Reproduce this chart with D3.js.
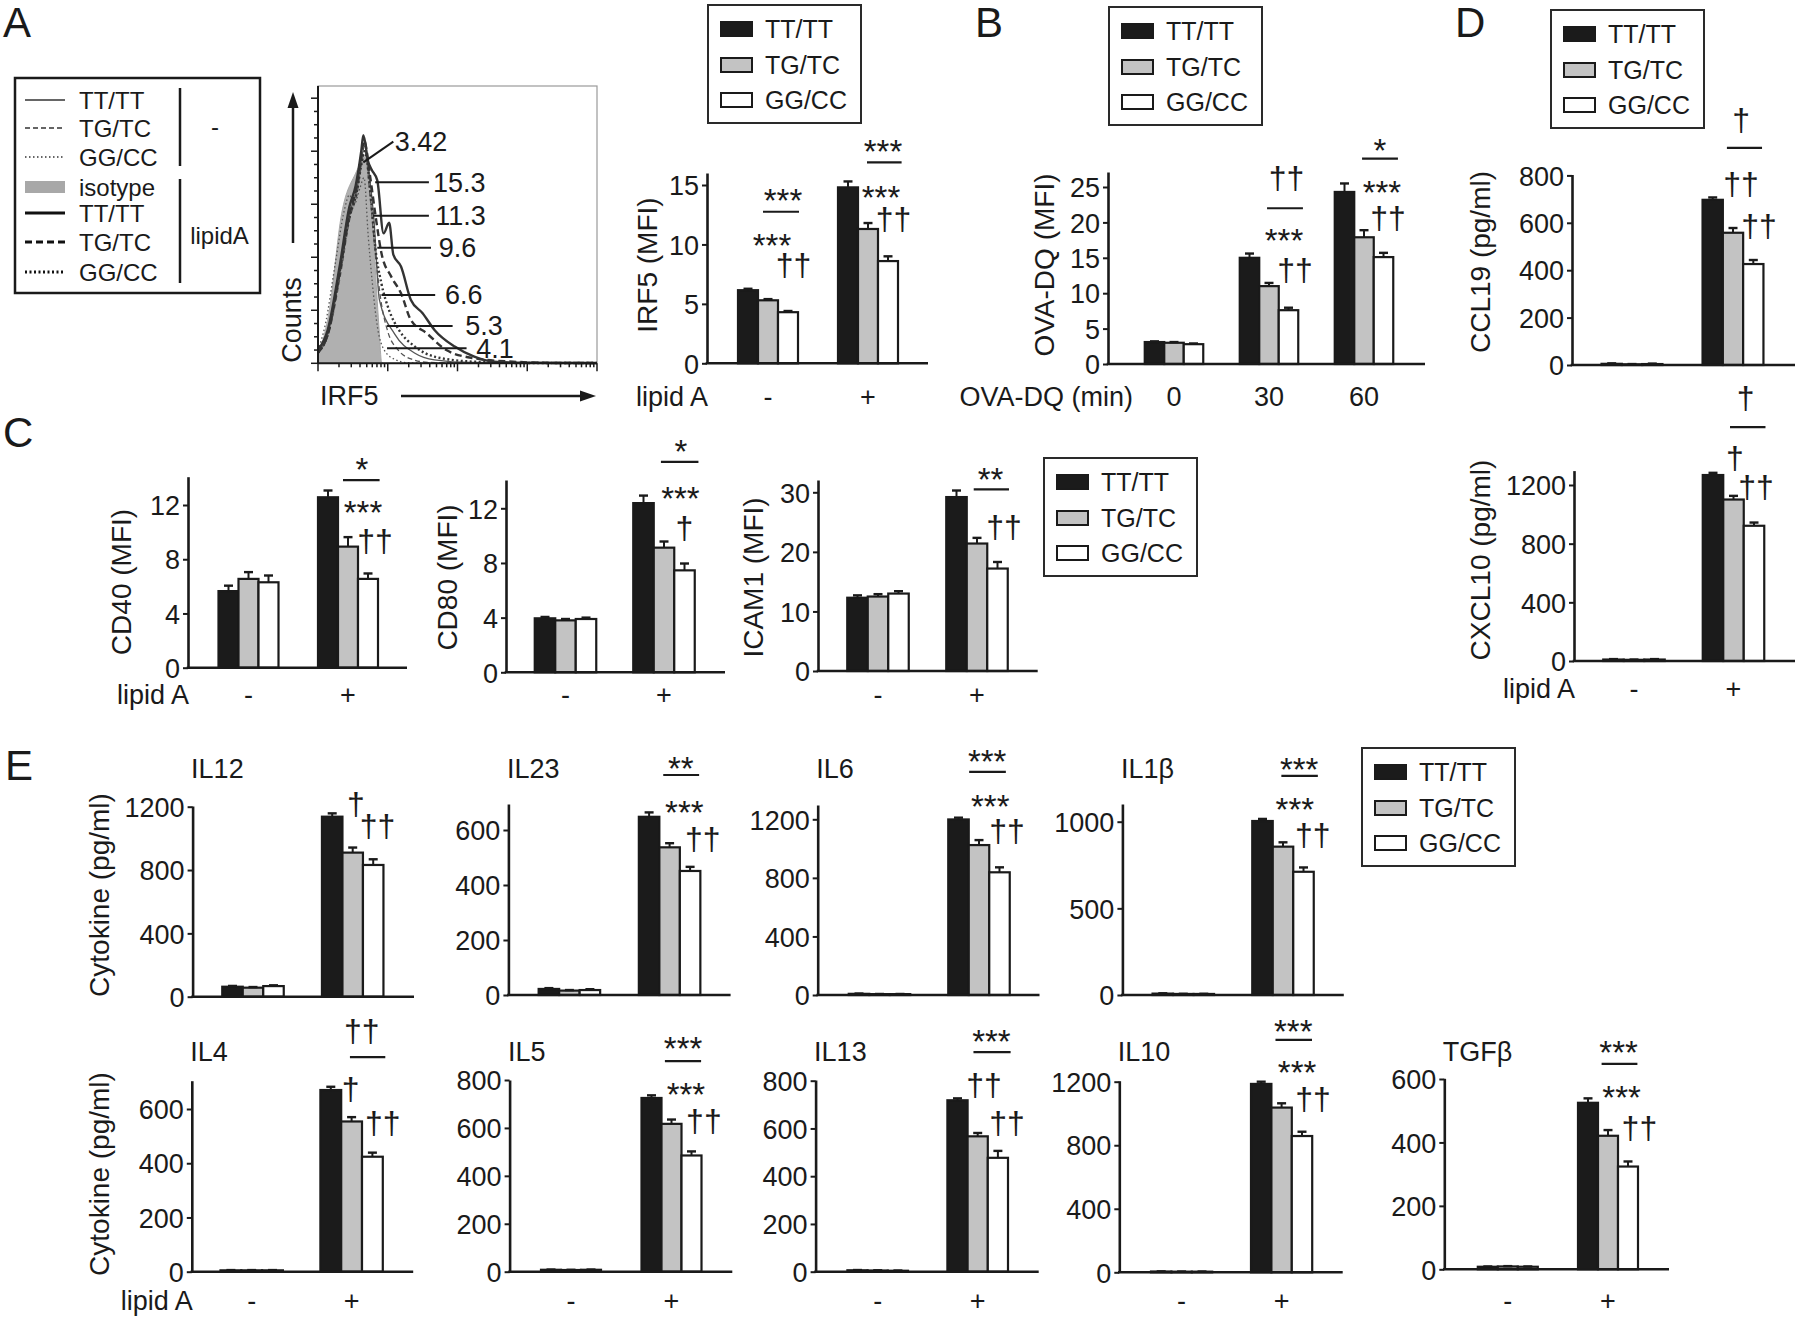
<!DOCTYPE html>
<html><head><meta charset="utf-8">
<script src="https://cdn.jsdelivr.net/npm/d3@7"></script>
<style>body{margin:0;background:#fff} text{font-family:"Liberation Sans",Arial,Helvetica,sans-serif;fill:#1a1a1a}</style>
</head><body><svg id="fig" width="1800" height="1321" xmlns="http://www.w3.org/2000/svg"></svg>
<script>
// ---------------- DATA ----------------
const series = ["TT/TT","TG/TC","GG/CC"];
const lipidGroups = ["-","+"];
const ovaGroups = ["0","30","60"];

const irf5Vals=[[6.15,5.3,4.3],[14.8,11.3,8.6]];
const irf5Err=[[0.12,0.1,0.1],[0.5,0.5,0.4]];
const ovaVals=[[3.1,3.0,2.8],[15.0,11.0,7.6],[24.3,17.9,15.1]];
const ovaErr=[[0.1,0.1,0.1],[0.6,0.45,0.35],[1.2,1.0,0.6]];
const cd40Vals=[[5.65,6.55,6.3],[12.57,8.93,6.55]];
const cd40Err=[[0.4,0.5,0.5],[0.5,0.7,0.4]];
const cd80Vals=[[3.95,3.8,3.9],[12.38,9.12,7.46]];
const cd80Err=[[0.1,0.1,0.1],[0.55,0.45,0.5]];
const icam1Vals=[[12.3,12.5,13.0],[29.2,21.4,17.2]];
const icam1Err=[[0.4,0.4,0.4],[1.1,0.95,1.1]];
const ccl19Vals=[[5,3,4],[697,558,426]];
const ccl19Err=[[2,1,2],[10,20,17]];
const cxcl10Vals=[[10,8,10],[1268,1101,922]];
const cxcl10Err=[[3,2,3],[15,25,22]];
const il12Vals=[[63,57,67],[1137,910,832]];
const il12Err=[[5,4,5],[21,32,36]];
const il23Vals=[[22,16,18],[648,537,451]];
const il23Err=[[3,2,3],[16,15,15]];
const il6Vals=[[8,6,6],[1199,1024,838]];
const il6Err=[[2,1,1],[12,34,34]];
const il1bVals=[[8,6,6],[1004,856,711]];
const il1bErr=[[2,1,1],[12,25,25]];
const il4Vals=[[5,5,5],[670,554,424]];
const il4Err=[[1,1,1],[12,16,15]];
const il5Vals=[[8,7,8],[725,617,485]];
const il5Err=[[1,1,1],[11,18,17]];
const il13Vals=[[6,5,4],[718,567,477]];
const il13Err=[[1,1,1],[8,14,29]];
const il10Vals=[[5,4,4],[1186,1037,858]];
const il10Err=[[1,1,1],[14,27,27]];
const tgfbVals=[[8,9,8],[525,421,324]];
const tgfbErr=[[1,1,1],[14,18,16]];

const irf5Ticks=[0,5,10,15], ovaTicks=[0,5,10,15,20,25], cd40Ticks=[0,4,8,12], cd80Ticks=[0,4,8,12],
      icam1Ticks=[0,10,20,30], ccl19Ticks=[0,200,400,600,800], cxcl10Ticks=[0,400,800,1200],
      il12Ticks=[0,400,800,1200], il23Ticks=[0,200,400,600], il6Ticks=[0,400,800,1200],
      il1bTicks=[0,500,1000], il4Ticks=[0,200,400,600], il5Ticks=[0,200,400,600,800],
      il13Ticks=[0,200,400,600,800], il10Ticks=[0,400,800,1200], tgfbTicks=[0,200,400,600];

// significance annotations: g = group, dx = offset from group centre in bar widths, v = value (centre)
const irf5Ann=[{g:"-",t:"***",dx:0.75,v:14.35},{g:"-",line:[-0.25,1.55],v:12.75},{g:"-",t:"***",dx:0.2,v:10.55},{g:"-",t:"††",dx:1.28,v:8.1},
  {g:"+",t:"***",dx:0.75,v:18.5},{g:"+",line:[-0.05,1.68],v:16.9},{g:"+",t:"***",dx:0.65,v:14.6},{g:"+",t:"††",dx:1.28,v:11.9}];
const ovaAnn=[{g:"30",t:"††",dx:0.9,v:26},{g:"30",line:[-0.1,1.74],v:22.0},{g:"30",t:"***",dx:0.77,v:18.5},{g:"30",t:"††",dx:1.33,v:13.0},
  {g:"60",t:"*",dx:0.82,v:31.2},{g:"60",line:[-0.1,1.74],v:29},{g:"60",t:"***",dx:0.92,v:25.3},{g:"60",t:"††",dx:1.23,v:20.3}];
const cd40Ann=[{g:"+",t:"*",dx:0.7,v:15.2},{g:"+",line:[-0.25,1.58],v:13.84},{g:"+",t:"***",dx:0.75,v:12.05},{g:"+",t:"††",dx:1.35,v:9.2}];
const cd80Ann=[{g:"+",t:"*",dx:0.82,v:16.75},{g:"+",line:[-0.15,1.68],v:15.4},{g:"+",t:"***",dx:0.8,v:13.3},{g:"+",t:"†",dx:1.0,v:10.4}];
const icam1Ann=[{g:"+",t:"**",dx:0.66,v:33.4},{g:"+",line:[-0.16,1.56],v:30.5},{g:"+",t:"††",dx:1.32,v:23.7}];
const ccl19Ann=[{g:"+",t:"†",dx:0.4,v:1025},{g:"+",line:[-0.3,1.43],v:916},{g:"+",t:"††",dx:0.4,v:755},{g:"+",t:"††",dx:1.28,v:578}];
const cxcl10Ann=[{g:"+",t:"†",dx:0.59,v:1779},{g:"+",line:[-0.17,1.56],v:1595},{g:"+",t:"†",dx:0.07,v:1370},{g:"+",t:"††",dx:1.1,v:1172}];
const il12Ann=[{g:"+",t:"†",dx:0.16,v:1205},{g:"+",t:"††",dx:1.21,v:1066}];
const il23Ann=[{g:"+",t:"**",dx:0.55,v:852},{g:"+",line:[-0.31,1.44],v:800},{g:"+",t:"***",dx:0.72,v:691},{g:"+",t:"††",dx:1.62,v:560}];
const il6Ann=[{g:"+",t:"***",dx:0.4,v:1650},{g:"+",line:[-0.48,1.31],v:1524},{g:"+",t:"***",dx:0.55,v:1338},{g:"+",t:"††",dx:1.37,v:1104}];
const il1bAnn=[{g:"+",t:"***",dx:0.79,v:1346},{g:"+",line:[-0.08,1.7],v:1264},{g:"+",t:"***",dx:0.58,v:1115},{g:"+",t:"††",dx:1.45,v:910}];
const il4Ann=[{g:"+",t:"††",dx:0.49,v:880},{g:"+",line:[-0.08,1.62],v:791},{g:"+",t:"†",dx:-0.04,v:664},{g:"+",t:"††",dx:1.5,v:541}];
const il5Ann=[{g:"+",t:"***",dx:0.58,v:962},{g:"+",line:[-0.33,1.48],v:879},{g:"+",t:"***",dx:0.72,v:772},{g:"+",t:"††",dx:1.62,v:621}];
const il13Ann=[{g:"+",t:"***",dx:0.68,v:997},{g:"+",line:[-0.21,1.63],v:920},{g:"+",t:"††",dx:0.31,v:774},{g:"+",t:"††",dx:1.45,v:614}];
const il10Ann=[{g:"+",t:"***",dx:0.57,v:1564},{g:"+",line:[-0.3,1.49],v:1463},{g:"+",t:"***",dx:0.76,v:1305},{g:"+",t:"††",dx:1.54,v:1074}];
const tgfbAnn=[{g:"+",t:"***",dx:0.53,v:707},{g:"+",line:[-0.32,1.47],v:648},{g:"+",t:"***",dx:0.68,v:566},{g:"+",t:"††",dx:1.57,v:439}];

// histogram (x in decades, y in counts)
const histIsotype=[[0,4],[0.02,5],[0.15,18],[0.34,56.6],[0.54,71.7],[0.64,76.7],[0.68,78],[0.77,61.6],[0.82,36.5],[0.88,11.3],[0.91,0.6],[0.93,0]];
const histTTu=[[0,4],[0.15,12],[0.32,35],[0.46,57],[0.56,66],[0.63,78],[0.67,82],[0.74,70],[0.8,55],[0.88,24],[1.1,11],[1.39,3.8],[1.67,1.3],[2.2,0.3],[4,0.1]];
const histTGu=[[0,4],[0.15,11],[0.32,33],[0.46,55],[0.56,64],[0.63,76],[0.67,80],[0.75,62],[0.82,42],[0.9,24],[1.0,12],[1.15,5],[1.35,1.5],[1.6,0.3],[4,0.1]];
const histGGu=[[0,5],[0.1,14],[0.25,38],[0.38,58],[0.45,63.5],[0.52,60],[0.6,66],[0.66,70],[0.72,48],[0.78,30],[0.85,14],[0.95,5],[1.1,1.5],[1.3,0.2],[4,0.1]];
const histTTl=[[0,5],[0.14,12.6],[0.31,36.5],[0.45,59],[0.54,67],[0.62,80],[0.65,86],[0.72,76],[0.77,73],[0.85,69],[0.94,49],[1.02,53],[1.08,41],[1.19,36.5],[1.33,24],[1.5,18.9],[1.67,12.6],[1.96,6.3],[2.24,2.5],[2.52,0.6],[3,0.2],[4,0.1]];
const histTGl=[[0,4],[0.14,11],[0.31,34],[0.45,56],[0.54,65],[0.62,78],[0.66,84],[0.75,70],[0.82,56.6],[0.91,41.5],[1.05,32.7],[1.19,26.4],[1.33,16.4],[1.56,11.3],[1.84,5],[2.24,1.9],[2.8,0.6],[3.5,0.1],[4,0.1]];
const histGGl=[[0,4],[0.14,11],[0.3,33],[0.45,55],[0.55,64],[0.63,76],[0.67,80],[0.76,62],[0.82,44],[0.91,30],[1.02,20],[1.16,12.6],[1.39,6.3],[1.67,2.5],[2.24,0.6],[3,0.1],[4,0.1]];
const histLabels=[
 {t:"3.42",x0:0.65,y0:75.8,x1:1.08,y1:83.6,tx:1.10},
 {t:"15.3",x0:0.82,y0:68.3,x1:1.59,y1:68.3,tx:1.65},
 {t:"11.3",x0:0.79,y0:55.7,x1:1.59,y1:55.7,tx:1.68},
 {t:"9.6",x0:0.85,y0:43.6,x1:1.62,y1:43.6,tx:1.73},
 {t:"6.6",x0:0.91,y0:25.8,x1:1.68,y1:25.8,tx:1.82},
 {t:"5.3",x0:0.99,y0:14.1,x1:1.93,y1:14.1,tx:2.11},
 {t:"4.1",x0:0.99,y0:5.7,x1:2.13,y1:5.7,tx:2.27}];
const histLegend=[
 {t:"TT/TT",s:"thinSolid"},{t:"TG/TC",s:"thinDash"},{t:"GG/CC",s:"thinDot"},{t:"isotype",s:"iso"},
 {t:"TT/TT",s:"thickSolid"},{t:"TG/TC",s:"thickDash"},{t:"GG/CC",s:"thickDot"}];

// ---------------- STYLES ----------------
const fills=["#1b1b1b","#c3c3c3","#ffffff"];
const INK="#1a1a1a";
const histStyles={
 thinSolid:{w:1.3,dash:null,c:"#555"}, thinDash:{w:1.3,dash:"5,3",c:"#555"}, thinDot:{w:1.3,dash:"1.5,2.5",c:"#555"},
 thickSolid:{w:2.4,dash:null,c:"#333"}, thickDash:{w:2.4,dash:"7,4",c:"#333"}, thickDot:{w:2.4,dash:"2,2.5",c:"#333"}};

const svg=d3.select("#fig");
svg.append("rect").attr("width",1800).attr("height",1321).attr("fill","#fff");

function txt(g,x,y,s,o={}){
  const t=g.append("text").attr("x",x).attr("y",y).text(s)
    .attr("font-size",o.size||27).attr("text-anchor",o.anchor||"start");
  if(o.rotate) t.attr("transform",`rotate(-90,${x},${y})`);
  return t;
}
function legend(x,y){
  const g=svg.append("g");
  g.append("rect").attr("x",x).attr("y",y).attr("width",153).attr("height",118)
    .attr("fill","#fff").attr("stroke","#2a2a2a").attr("stroke-width",2);
  const offs=[24,60,95];
  series.forEach((s,i)=>{
    g.append("rect").attr("x",x+13).attr("y",y+offs[i]-7).attr("width",31).attr("height",14)
      .attr("fill",fills[i]).attr("stroke",INK).attr("stroke-width",2);
    txt(g,x+57,y+offs[i]+9,s,{size:25});
  });
}

// ---------------- PANEL LETTERS ----------------
[["A",3,37],["B",975,37],["D",1455,37],["C",3,447],["E",5,780]].forEach(d=>txt(svg,d[1],d[2],d[0],{size:42}));

// ---------------- HISTOGRAM (A) ----------------
(function(){
  const g=svg.append("g");
  const hx=d3.scaleLinear().domain([0,4]).range([318,597]);
  const hy=d3.scaleLinear().domain([0,104.6]).range([363.3,86]);
  g.append("rect").attr("x",hx(0)).attr("y",hy(104.6)).attr("width",hx(4)-hx(0)).attr("height",hy(0)-hy(104.6))
    .attr("fill","none").attr("stroke","#9a9a9a").attr("stroke-width",1.2);
  const area=d3.area().x(d=>hx(d[0])).y0(hy(0)).y1(d=>hy(d[1])).curve(d3.curveMonotoneX);
  const line=d3.line().x(d=>hx(d[0])).y(d=>hy(d[1])).curve(d3.curveMonotoneX);
  g.append("path").attr("d",area(histIsotype)).attr("fill","#b0b0b0").attr("stroke","#a8a8a8").attr("stroke-width",1);
  [[histGGu,"thinDot"],[histTGu,"thinDash"],[histTTu,"thinSolid"],[histGGl,"thickDot"],[histTGl,"thickDash"],[histTTl,"thickSolid"]]
   .forEach(([pts,s])=>{
     const st=histStyles[s];
     g.append("path").attr("d",line(pts)).attr("fill","none").attr("stroke",st.c).attr("stroke-width",st.w)
      .attr("stroke-dasharray",st.dash);
   });
  // axes
  g.append("line").attr("x1",hx(0)).attr("x2",hx(0)).attr("y1",hy(0)).attr("y2",hy(104.6)).attr("stroke",INK).attr("stroke-width",2);
  g.append("line").attr("x1",hx(0)).attr("x2",hx(4)).attr("y1",hy(0)).attr("y2",hy(0)).attr("stroke",INK).attr("stroke-width",2);
  d3.range(0,101,5).forEach(v=>{
    const L=v%20===0?7:4;
    g.append("line").attr("x1",hx(0)-L).attr("x2",hx(0)).attr("y1",hy(v)).attr("y2",hy(v)).attr("stroke",INK).attr("stroke-width",1.5);
  });
  d3.range(0,4).forEach(dec=>{
    d3.range(1,10).forEach(k=>{
      const v=dec+Math.log10(k), L=k===1?8:4;
      g.append("line").attr("x1",hx(v)).attr("x2",hx(v)).attr("y1",hy(0)).attr("y2",hy(0)+L).attr("stroke",INK).attr("stroke-width",1.5);
    });
  });
  g.append("line").attr("x1",hx(4)).attr("x2",hx(4)).attr("y1",hy(0)).attr("y2",hy(0)+8).attr("stroke",INK).attr("stroke-width",1.5);
  // labels with leaders
  histLabels.forEach(d=>{
    g.append("line").attr("x1",hx(d.x0)).attr("y1",hy(d.y0)).attr("x2",hx(d.x1)).attr("y2",hy(d.y1)).attr("stroke",INK).attr("stroke-width",2);
    txt(g,hx(d.tx),hy(d.y1)+9.5,d.t,{size:27});
  });
  // counts arrow + label
  g.append("line").attr("x1",293).attr("x2",293).attr("y1",243).attr("y2",104).attr("stroke",INK).attr("stroke-width",2.5);
  g.append("path").attr("d","M293,92 L287.5,108 L298.5,108 Z").attr("fill",INK);
  txt(g,300.5,320,"Counts",{size:27,anchor:"middle",rotate:true});
  txt(g,320,405,"IRF5",{size:27});
  g.append("line").attr("x1",401).attr("x2",584).attr("y1",396).attr("y2",396).attr("stroke",INK).attr("stroke-width",2.5);
  g.append("path").attr("d","M596,396 L580,390.5 L580,401.5 Z").attr("fill",INK);
  // legend
  g.append("rect").attr("x",15).attr("y",78).attr("width",245).attr("height",215).attr("fill","none").attr("stroke",INK).attr("stroke-width",2.5);
  const rows=[100,128,157,187,213,242,272];
  histLegend.forEach((d,i)=>{
    const y=rows[i];
    if(d.s==="iso"){
      g.append("rect").attr("x",25).attr("y",y-6).attr("width",40).attr("height",12).attr("fill","#a8a8a8");
    } else {
      const st=histStyles[d.s];
      g.append("line").attr("x1",25).attr("x2",65).attr("y1",y).attr("y2",y).attr("stroke",i<3?"#333":"#111")
       .attr("stroke-width",i<3?1.3:3).attr("stroke-dasharray",st.dash);
    }
    txt(g,79,y+8.5,d.t,{size:24});
  });
  g.append("line").attr("x1",180).attr("x2",180).attr("y1",88).attr("y2",166).attr("stroke",INK).attr("stroke-width",2.5);
  g.append("line").attr("x1",180).attr("x2",180).attr("y1",179).attr("y2",283).attr("stroke",INK).attr("stroke-width",2.5);
  txt(g,215,135,"-",{size:24,anchor:"middle"});
  txt(g,219.5,243.5,"lipidA",{size:24,anchor:"middle"});
})();

// ---------------- BAR PANELS ----------------
const panels=[
 {groups:lipidGroups,vals:irf5Vals,err:irf5Err,ann:irf5Ann,ticks:irf5Ticks,ax:707,by:363.3,ty:173,rx:928,tv:15,tvy:185,c0:768,c1:868,bw:20,
  xl:{y:406,lab:"lipid A"},yl:{t:"IRF5 (MFI)",x:657,y:265}},
 {groups:ovaGroups,vals:ovaVals,err:ovaErr,ann:ovaAnn,ticks:ovaTicks,ax:1108,by:364,ty:172,rx:1425,tv:25,tvy:187,c0:1174,c1:1364,bw:19.5,
  xl:{y:406,lab:"OVA-DQ (min)",labX:1133},yl:{t:"OVA-DQ (MFI)",x:1054,y:265}},
 {groups:lipidGroups,vals:cd40Vals,err:cd40Err,ann:cd40Ann,ticks:cd40Ticks,ax:188,by:667.7,ty:476.7,rx:407,tv:12,tvy:505,c0:248.5,c1:348,bw:20,
  xl:{y:704,lab:"lipid A"},yl:{t:"CD40 (MFI)",x:130.5,y:582}},
 {groups:lipidGroups,vals:cd80Vals,err:cd80Err,ann:cd80Ann,ticks:cd80Ticks,ax:506,by:672.3,ty:480,rx:725,tv:12,tvy:508.3,c0:565.5,c1:664,bw:20.5,
  xl:{y:704},yl:{t:"CD80 (MFI)",x:456.7,y:577.5}},
 {groups:lipidGroups,vals:icam1Vals,err:icam1Err,ann:icam1Ann,ticks:icam1Ticks,ax:818,by:671,ty:480,rx:1037.7,tv:30,tvy:492.3,c0:878,c1:977,bw:20.5,
  xl:{y:704},yl:{t:"ICAM1 (MFI)",x:762.5,y:577.5}},
 {groups:lipidGroups,vals:ccl19Vals,err:ccl19Err,ann:ccl19Ann,ticks:ccl19Ticks,ax:1572,by:365,ty:174.5,rx:1795,tv:800,tvy:175.4,c0:1632,c1:1733,bw:20.3,
  yl:{t:"CCL19 (pg/ml)",x:1490,y:262}},
 {groups:lipidGroups,vals:cxcl10Vals,err:cxcl10Err,ann:cxcl10Ann,ticks:cxcl10Ticks,ax:1574,by:661,ty:470.6,rx:1795,tv:1200,tvy:485,c0:1634,c1:1733.5,bw:20.5,
  xl:{y:698,lab:"lipid A"},yl:{t:"CXCL10 (pg/ml)",x:1490,y:560}},
 {groups:lipidGroups,vals:il12Vals,err:il12Err,ann:il12Ann,ticks:il12Ticks,ax:192.6,by:996.7,ty:806,rx:414,tv:1200,tvy:806.7,c0:253,c1:352.7,bw:20.5,
  title:{t:"IL12",y:778},yl:{t:"Cytokine (pg/ml)",x:108.8,y:895}},
 {groups:lipidGroups,vals:il23Vals,err:il23Err,ann:il23Ann,ticks:il23Ticks,ax:508.4,by:995,ty:804,rx:730.6,tv:600,tvy:830,c0:569.4,c1:669.6,bw:20.5,
  title:{t:"IL23",y:778}},
 {groups:lipidGroups,vals:il6Vals,err:il6Err,ann:il6Ann,ticks:il6Ticks,ax:817.7,by:995,ty:805,rx:1039.5,tv:1200,tvy:819.3,c0:879.5,c1:979,bw:20.5,
  title:{t:"IL6",y:778}},
 {groups:lipidGroups,vals:il1bVals,err:il1bErr,ann:il1bAnn,ticks:il1bTicks,ax:1122.4,by:995,ty:804,rx:1343.8,tv:1000,tvy:821.7,c0:1183.3,c1:1283,bw:20.5,
  title:{t:"IL1β",y:778}},
 {groups:lipidGroups,vals:il4Vals,err:il4Err,ann:il4Ann,ticks:il4Ticks,ax:191.8,by:1271.7,ty:1080.7,rx:413.2,tv:600,tvy:1109,c0:251.7,c1:351.6,bw:20.8,
  title:{t:"IL4",y:1061},xl:{y:1310,lab:"lipid A"},yl:{t:"Cytokine (pg/ml)",x:108.8,y:1174}},
 {groups:lipidGroups,vals:il5Vals,err:il5Err,ann:il5Ann,ticks:il5Ticks,ax:509.6,by:1271.7,ty:1080,rx:732.3,tv:800,tvy:1080,c0:571,c1:671.5,bw:20,
  title:{t:"IL5",y:1061},xl:{y:1310}},
 {groups:lipidGroups,vals:il13Vals,err:il13Err,ann:il13Ann,ticks:il13Ticks,ax:815.6,by:1271.7,ty:1080,rx:1038.7,tv:800,tvy:1080.7,c0:877.7,c1:977.7,bw:20.2,
  title:{t:"IL13",y:1061},xl:{y:1310}},
 {groups:lipidGroups,vals:il10Vals,err:il10Err,ann:il10Ann,ticks:il10Ticks,ax:1119.3,by:1272.3,ty:1080.7,rx:1342.7,tv:1200,tvy:1081.7,c0:1181.6,c1:1281.6,bw:20.4,
  title:{t:"IL10",y:1061},xl:{y:1310}},
 {groups:lipidGroups,vals:tgfbVals,err:tgfbErr,ann:tgfbAnn,ticks:tgfbTicks,ax:1444.3,by:1269.3,ty:1078.3,rx:1669,tv:600,tvy:1079,c0:1507.8,c1:1608,bw:20,
  title:{t:"TGFβ",y:1061},xl:{y:1310}}
];

function barPanel(p){
  const g=svg.append("g");
  const y0=d3.scaleLinear().domain([0,p.tv]).range([p.by,p.tvy]);
  const y=d3.scaleLinear().domain([0,y0.invert(p.ty)]).range([p.by,p.ty]);
  const x=d3.scalePoint().domain(p.groups).range([p.c0,p.c1]);
  const sx=d3.scaleBand().domain(series).range([-1.5*p.bw,1.5*p.bw]);
  p.groups.forEach((gn,gi)=>{
    series.forEach((s,si)=>{
      const v=p.vals[gi][si], e=p.err[gi][si];
      const xl=x(gn)+sx(s), w=sx.bandwidth(), xc=xl+w/2;
      g.append("rect").attr("x",xl).attr("y",y(v)).attr("width",w).attr("height",Math.max(0,y(0)-y(v)))
        .attr("fill",fills[si]).attr("stroke",INK).attr("stroke-width",2.2);
      g.append("line").attr("x1",xc).attr("x2",xc).attr("y1",y(v)).attr("y2",y(v+e)).attr("stroke",INK).attr("stroke-width",2);
      g.append("line").attr("x1",xc-4.5).attr("x2",xc+4.5).attr("y1",y(v+e)).attr("y2",y(v+e)).attr("stroke",INK).attr("stroke-width",2.4);
    });
  });
  // axis
  const ax=g.append("g").attr("transform",`translate(${p.ax},0)`)
    .call(d3.axisLeft(y).tickValues(p.ticks).tickFormat(d3.format("d")).tickSize(5).tickSizeOuter(0).tickPadding(3));
  ax.attr("font-family",null).attr("font-size",null);
  ax.select(".domain").attr("stroke",INK).attr("stroke-width",2.6);
  ax.selectAll(".tick line").attr("stroke",INK).attr("stroke-width",2);
  ax.selectAll(".tick text").attr("font-size",27).attr("fill",INK).attr("dy","0.36em");
  g.append("line").attr("x1",p.ax-1.3).attr("x2",p.rx).attr("y1",y(0)).attr("y2",y(0)).attr("stroke",INK).attr("stroke-width",2.6);
  // annotations
  p.ann.forEach(a=>{
    const cx=x(a.g);
    if(a.line){
      g.append("line").attr("x1",cx+a.line[0]*p.bw).attr("x2",cx+a.line[1]*p.bw).attr("y1",y(a.v)).attr("y2",y(a.v))
        .attr("stroke",INK).attr("stroke-width",2.2);
    } else if(a.t.includes("*")){
      txt(g,cx+a.dx*p.bw,y(a.v)+0.585*33,a.t,{size:33,anchor:"middle"});
    } else {
      txt(g,cx+a.dx*p.bw,y(a.v)+0.27*32,a.t,{size:32,anchor:"middle"});
    }
  });
  // x labels
  if(p.xl){
    p.groups.forEach(gn=>txt(g,x(gn),p.xl.y,gn,{size:27,anchor:"middle"}));
    if(p.xl.lab) txt(g,p.xl.labX||p.ax+1,p.xl.y,p.xl.lab,{size:27,anchor:"end"});
  }
  if(p.yl) txt(g,p.yl.x,p.yl.y,p.yl.t,{size:28,anchor:"middle",rotate:true});
  if(p.title) txt(g,p.ax-1.5,p.title.y,p.title.t,{size:27});
}
panels.forEach(barPanel);

// ---------------- LEGENDS ----------------
[[708,5],[1109,7],[1551,10],[1044,458],[1362,748]].forEach(d=>legend(d[0],d[1]));
</script></body></html>
